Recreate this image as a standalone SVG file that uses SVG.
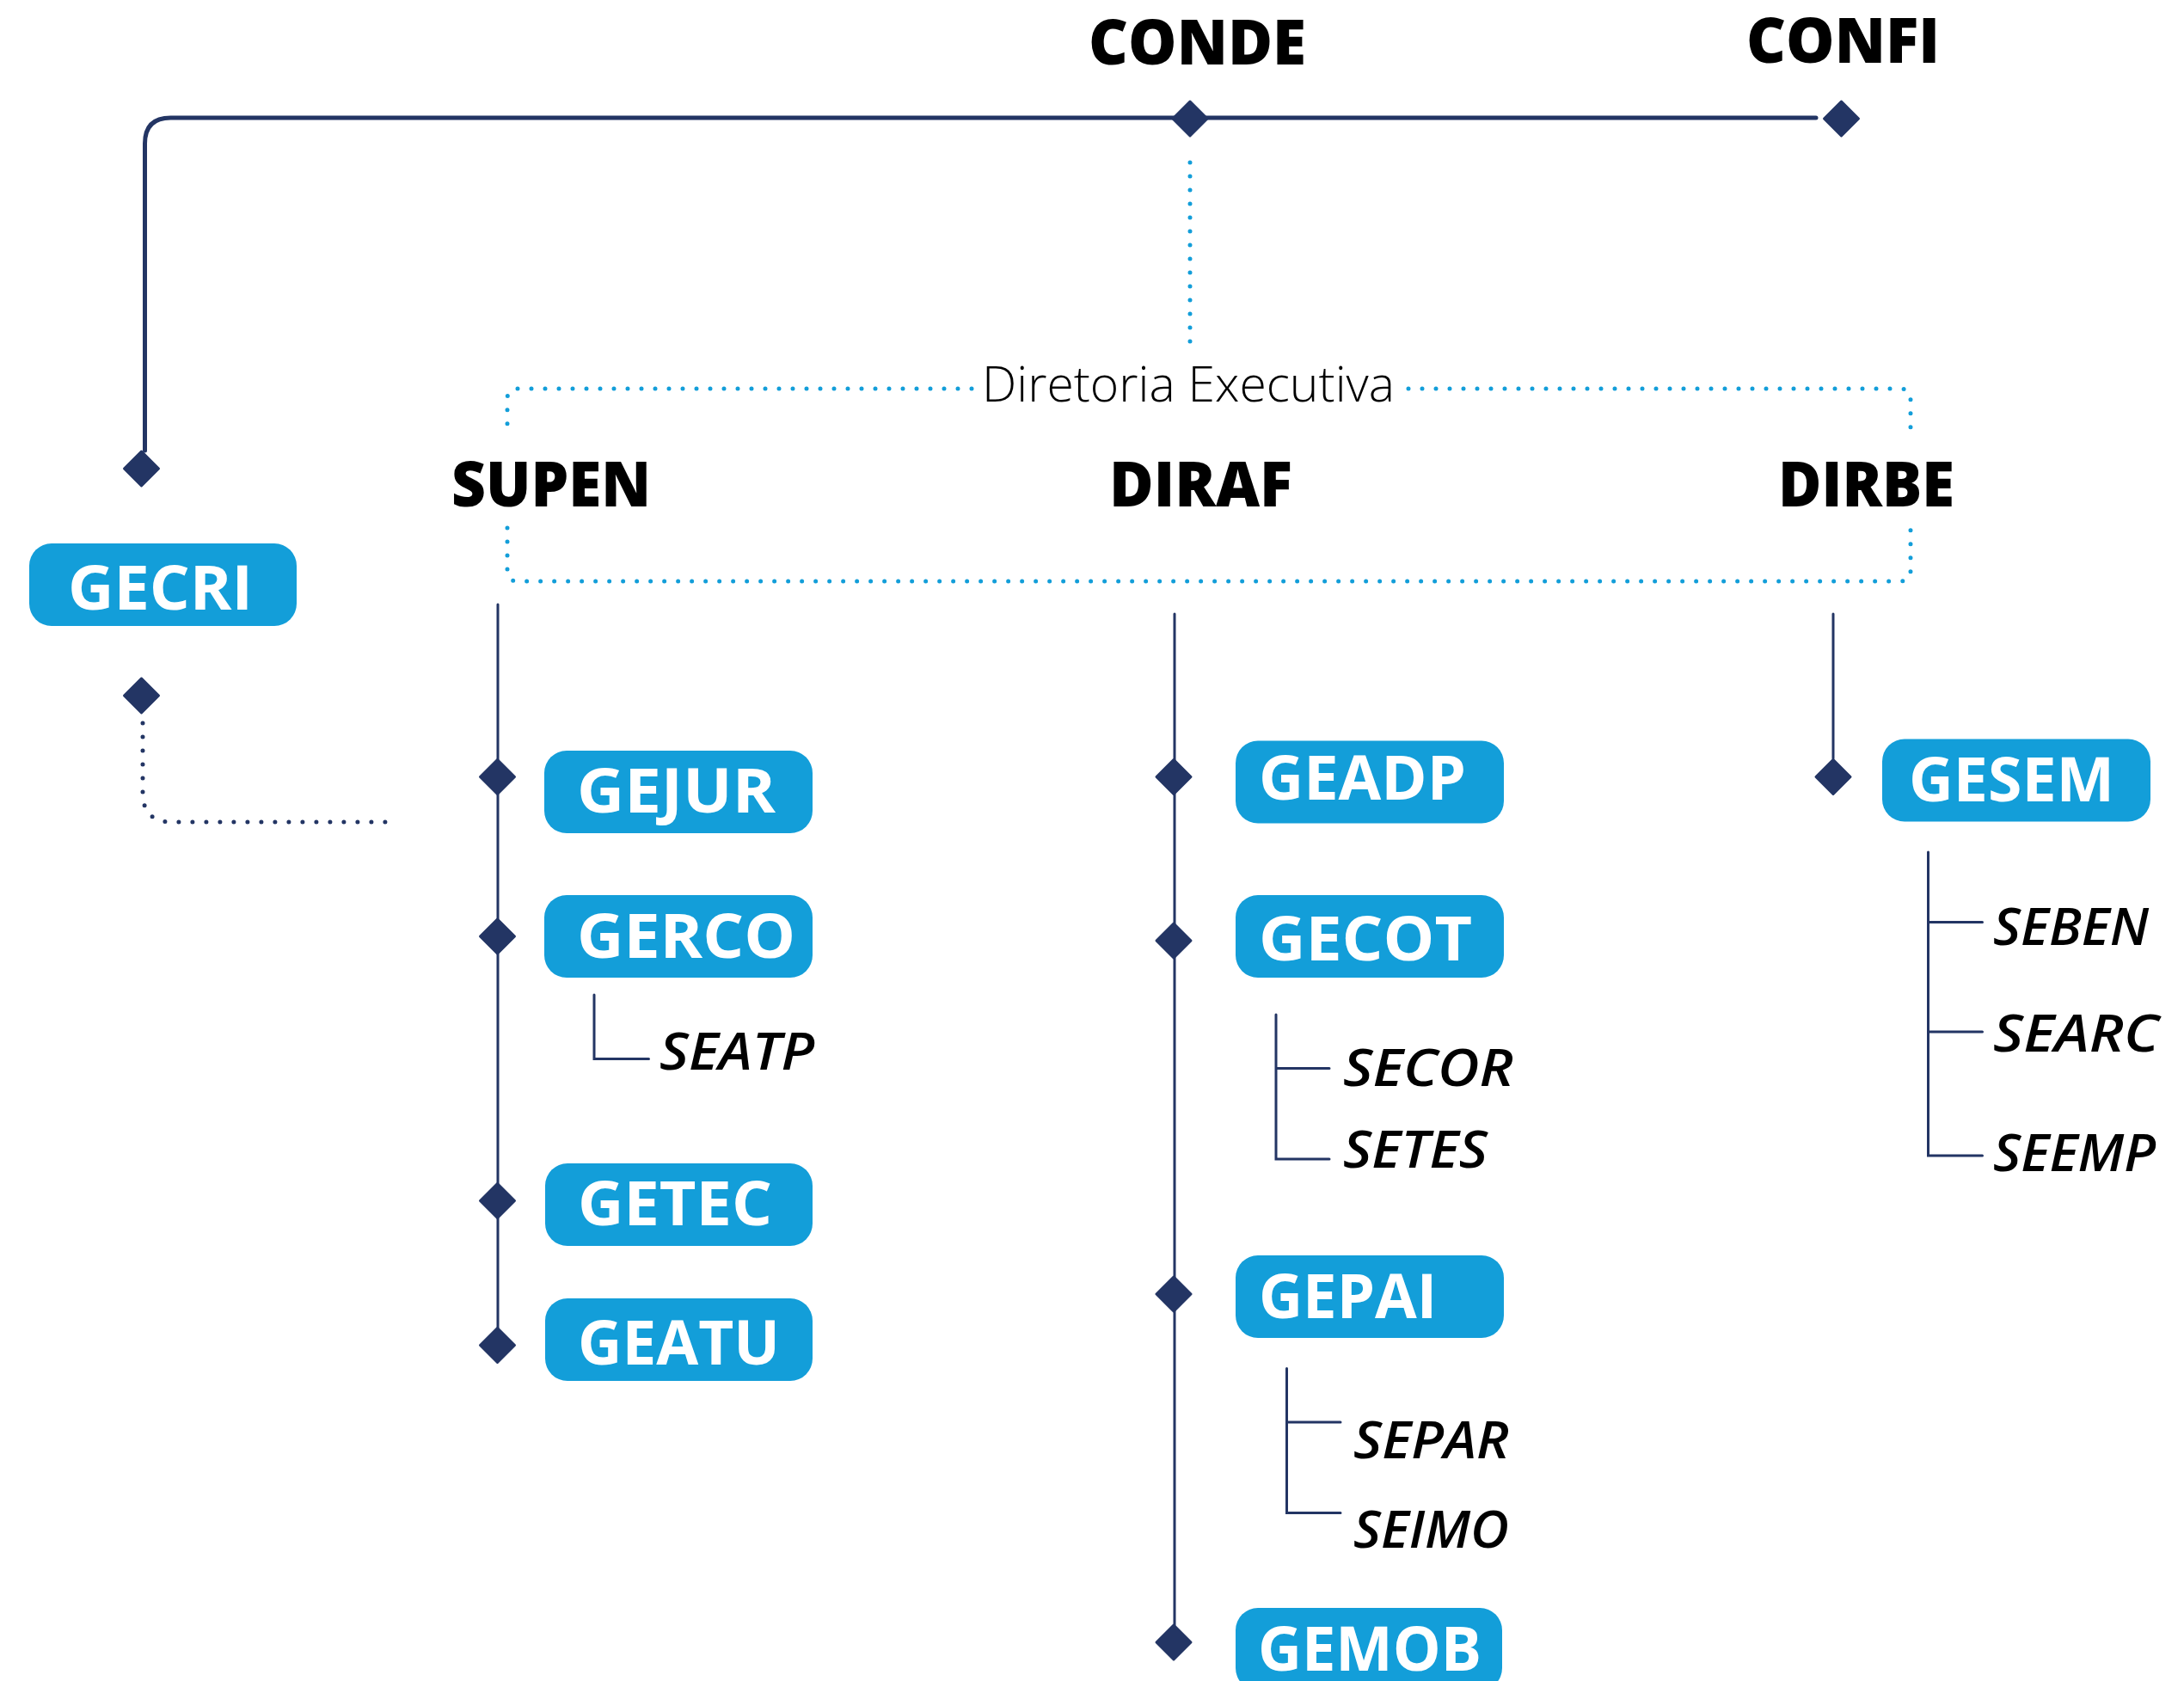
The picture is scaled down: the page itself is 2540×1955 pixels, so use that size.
<svg xmlns="http://www.w3.org/2000/svg" width="2540" height="1955" viewBox="0 0 2540 1955">
<defs>
<style>
.title{font-family:"Open Sans","Liberation Sans",sans-serif;font-weight:800;font-size:73px;fill:#000}
.box{fill:#139ed9}
.blabel{font-family:"Open Sans","Liberation Sans",sans-serif;font-weight:700;font-size:72px;fill:#fff}
.sub{font-family:"Open Sans","Liberation Sans",sans-serif;font-weight:600;font-style:italic;font-size:60px;fill:#000}
.exec{font-family:"Open Sans","Liberation Sans",sans-serif;font-weight:300;font-size:57px;fill:#000}
.main{fill:none;stroke:#233564;stroke-width:5;stroke-linecap:round;stroke-linejoin:round}
.thin{fill:none;stroke:#233564;stroke-width:3;stroke-linecap:round;stroke-linejoin:miter}
.dotb{fill:none;stroke:#139ed9;stroke-width:5;stroke-linecap:round;stroke-dasharray:0 16}
.dotn{fill:none;stroke:#233564;stroke-width:5;stroke-linecap:round;stroke-dasharray:0 16}
.dia{fill:#233564;stroke:#233564;stroke-width:3;stroke-linejoin:round}
</style>
<path id="d" d="M0,-20 L20,0 L0,20 L-20,0 Z"/>
</defs>
<rect width="2540" height="1955" fill="#fff"/>

<g id="connectors">
<path class="main" d="M168.5,524 V167 Q168.5,137 198.5,137 H2112"/>
<path class="dotb" d="M1384,189 V404"/>
<path class="dotb" d="M1130,452 H602 Q590,452 590,464 V500"/>
<path class="dotb" d="M1638,452 H2210 Q2222,452 2222,464 V510"/>
<path class="dotb" d="M590,614 V664 Q590,676 602,676 H2210 Q2222,676 2222,664 V610"/>
<path class="dotn" d="M166,841 V922 Q166,956 200,956 H453"/>
<path class="thin" d="M579,703 V1545"/>
<path class="thin" d="M1366,714 V1890"/>
<path class="thin" d="M2132,714 V882"/>
<path class="thin" d="M691,1157 V1231.5 H754.5"/>
<path class="thin" d="M1484,1180 V1348 H1546 M1484,1242.5 H1546"/>
<path class="thin" d="M1496.5,1591.5 V1759.5 H1559 M1496.5,1654 H1559"/>
<path class="thin" d="M2242.5,991 V1344 H2305.5 M2242.5,1072.5 H2305.5 M2242.5,1200 H2305.5"/>
<use href="#d" class="dia" x="1384" y="138"/>
<use href="#d" class="dia" x="2141.5" y="138"/>
<use href="#d" class="dia" x="164.5" y="545"/>
<use href="#d" class="dia" x="164.5" y="809"/>
<use href="#d" class="dia" x="578.5" y="903.5"/>
<use href="#d" class="dia" x="578.5" y="1089"/>
<use href="#d" class="dia" x="578.5" y="1396.5"/>
<use href="#d" class="dia" x="578.5" y="1564.5"/>
<use href="#d" class="dia" x="1365" y="903.5"/>
<use href="#d" class="dia" x="1365" y="1094"/>
<use href="#d" class="dia" x="1365" y="1505"/>
<use href="#d" class="dia" x="1365" y="1910"/>
<use href="#d" class="dia" x="2132" y="903.5"/>
</g>

<g id="n-conde"><text class="title" x="1266" y="75" textLength="253" lengthAdjust="spacingAndGlyphs">CONDE</text></g>
<g id="n-confi"><text class="title" x="2031" y="73" textLength="225" lengthAdjust="spacingAndGlyphs">CONFI</text></g>
<g id="n-diretoria"><text class="exec" x="1142" y="467" textLength="480" lengthAdjust="spacingAndGlyphs">Diretoria Executiva</text></g>
<g id="n-supen"><text class="title" x="525" y="589" textLength="232" lengthAdjust="spacingAndGlyphs">SUPEN</text></g>
<g id="n-diraf"><text class="title" x="1290" y="589" textLength="213" lengthAdjust="spacingAndGlyphs">DIRAF</text></g>
<g id="n-dirbe"><text class="title" x="2068" y="589" textLength="205" lengthAdjust="spacingAndGlyphs">DIRBE</text></g>

<g id="n-gecri"><rect class="box" x="34" y="632" width="311" height="96" rx="26"/><text class="blabel" x="79" y="709" textLength="215" lengthAdjust="spacingAndGlyphs">GECRI</text></g>
<g id="n-gejur"><rect class="box" x="633" y="873" width="312" height="96" rx="26"/><text class="blabel" x="671" y="945" textLength="231" lengthAdjust="spacingAndGlyphs">GEJUR</text></g>
<g id="n-gerco"><rect class="box" x="633" y="1041" width="312" height="96" rx="26"/><text class="blabel" x="671" y="1114" textLength="254" lengthAdjust="spacingAndGlyphs">GERCO</text></g>
<g id="n-getec"><rect class="box" x="634" y="1353" width="311" height="96" rx="26"/><text class="blabel" x="672" y="1425" textLength="226" lengthAdjust="spacingAndGlyphs">GETEC</text></g>
<g id="n-geatu"><rect class="box" x="634" y="1510" width="311" height="96" rx="26"/><text class="blabel" x="672" y="1587" textLength="235" lengthAdjust="spacingAndGlyphs">GEATU</text></g>
<g id="n-geadp"><rect class="box" x="1437" y="861.5" width="312" height="96" rx="26"/><text class="blabel" x="1464" y="930" textLength="241" lengthAdjust="spacingAndGlyphs">GEADP</text></g>
<g id="n-gecot"><rect class="box" x="1437" y="1041" width="312" height="96" rx="26"/><text class="blabel" x="1464" y="1116.5" textLength="248" lengthAdjust="spacingAndGlyphs">GECOT</text></g>
<g id="n-gepai"><rect class="box" x="1437" y="1460" width="312" height="96" rx="26"/><text class="blabel" x="1464" y="1533" textLength="207" lengthAdjust="spacingAndGlyphs">GEPAI</text></g>
<g id="n-gemob"><rect class="box" x="1437" y="1870" width="310" height="96" rx="26"/><text class="blabel" x="1463" y="1943" textLength="260" lengthAdjust="spacingAndGlyphs">GEMOB</text></g>
<g id="n-gesem"><rect class="box" x="2189" y="859.5" width="312" height="96" rx="26"/><text class="blabel" x="2220" y="932" textLength="239" lengthAdjust="spacingAndGlyphs">GESEM</text></g>

<g id="n-seatp"><text class="sub" x="767" y="1244" textLength="180" lengthAdjust="spacingAndGlyphs">SEATP</text></g>
<g id="n-secor"><text class="sub" x="1562" y="1262.5" textLength="198" lengthAdjust="spacingAndGlyphs">SECOR</text></g>
<g id="n-setes"><text class="sub" x="1562" y="1357.5" textLength="168" lengthAdjust="spacingAndGlyphs">SETES</text></g>
<g id="n-separ"><text class="sub" x="1574" y="1696" textLength="181" lengthAdjust="spacingAndGlyphs">SEPAR</text></g>
<g id="n-seimo"><text class="sub" x="1574" y="1800" textLength="181" lengthAdjust="spacingAndGlyphs">SEIMO</text></g>
<g id="n-seben"><text class="sub" x="2318" y="1099" textLength="181" lengthAdjust="spacingAndGlyphs">SEBEN</text></g>
<g id="n-searc"><text class="sub" x="2318" y="1223" textLength="193" lengthAdjust="spacingAndGlyphs">SEARC</text></g>
<g id="n-seemp"><text class="sub" x="2318" y="1362" textLength="189" lengthAdjust="spacingAndGlyphs">SEEMP</text></g>
</svg>
